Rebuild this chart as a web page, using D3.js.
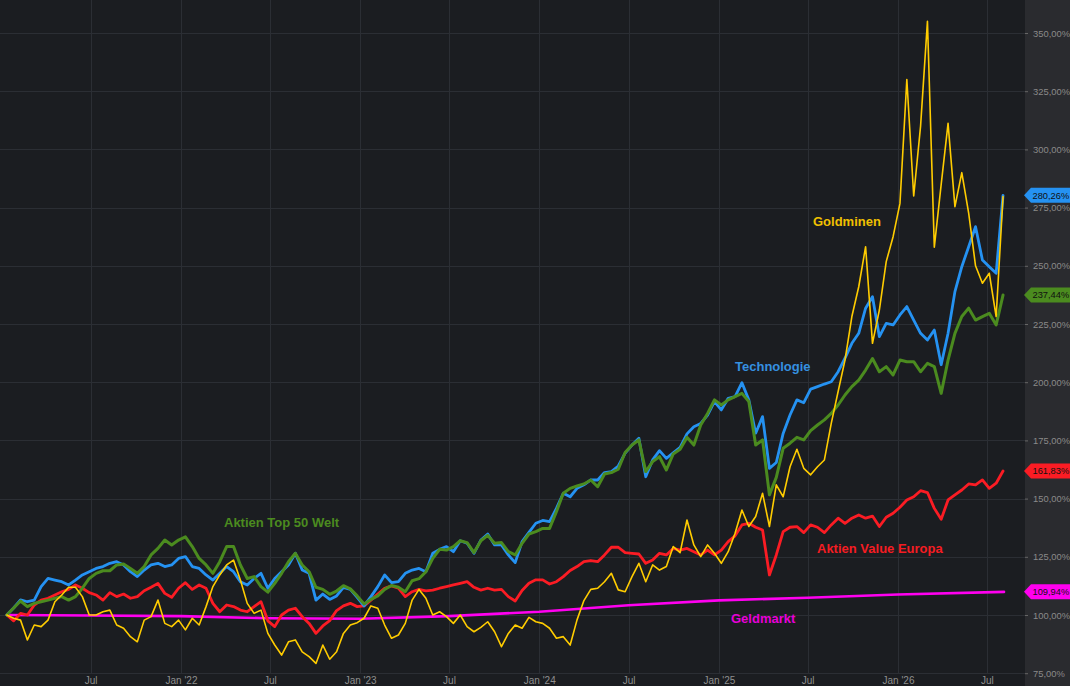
<!DOCTYPE html>
<html><head><meta charset="utf-8">
<script src="https://cdn.jsdelivr.net/npm/d3@7"></script>
<style>
html,body{margin:0;padding:0;background:#1b1d21;overflow:hidden}
svg{display:block;font-family:"Liberation Sans",Arial,sans-serif}
</style></head>
<body>
<svg id="c" width="1070" height="686"></svg>
<script>
// ---------- DATA ----------
const seriesStart = "2021-01-11";   // first observation, one point every 14 days
const stepDays = 14;

const technologie = [100.0,103.0,106.5,105.7,106.4,112.2,115.7,115.0,114.3,112.9,115.0,117.2,118.6,120.0,120.8,122.2,122.9,121.5,118.6,116.5,
119.3,121.5,122.2,120.8,121.5,124.3,125.1,120.8,120.0,117.2,115.0,117.9,120.8,118.6,114.3,112.9,115.7,117.9,111.5,115.7,
118.6,121.5,126.5,119.3,117.9,106.4,109.0,106.7,108.2,111.9,111.0,107.6,103.9,107.9,112.2,117.2,113.9,114.3,117.9,119.3,
120.0,118.6,126.5,128.2,129.4,127.2,131.9,130.8,126.5,132.2,134.8,130.1,130.1,125.8,122.5,131.5,135.5,139.4,140.6,140.1,
145.8,152.3,150.8,154.4,155.9,158.0,158.0,161.2,161.6,164.0,169.5,173.0,175.9,159.4,166.6,170.6,167.3,169.7,172.0,177.8,
180.9,182.3,185.9,191.7,188.1,193.1,193.8,199.8,192.4,178.1,185.2,163.0,165.5,178.0,185.9,192.4,191.2,197.0,198.1,199.2,
200.2,204.5,210.3,216.7,221.0,231.8,236.7,219.6,225.3,224.6,228.9,232.5,226.7,221.0,218.1,222.4,207.5,221.0,238.9,249.6,
258.2,266.8,252.5,249.6,246.8,280.26];

const top50Welt = [100.0,103.0,106.0,103.6,105.0,105.7,106.4,107.2,107.9,106.4,107.9,111.5,115.7,117.9,119.0,119.0,121.5,121.9,120.0,117.9,
120.8,125.8,128.6,132.2,130.1,132.2,133.6,129.4,124.3,121.5,117.9,122.9,129.4,129.4,121.5,115.7,116.5,112.2,109.8,113.6,
117.9,122.9,126.5,121.5,118.6,111.9,111.0,108.9,110.3,112.6,111.2,108.2,104.7,106.7,108.2,111.0,112.7,111.9,110.0,114.7,
115.6,118.6,124.3,128.2,127.9,129.4,131.9,131.1,126.8,131.9,134.2,130.8,131.1,127.2,125.8,130.8,134.8,135.8,137.2,137.2,
144.4,152.3,154.4,155.4,156.3,158.0,155.1,160.6,161.2,162.6,169.8,173.0,175.2,161.6,165.9,168.0,162.3,169.2,171.2,176.3,
173.0,181.6,186.6,192.4,190.2,192.4,193.8,195.2,191.7,173.0,175.2,151.6,159.1,171.6,173.8,176.3,175.2,179.2,181.6,183.8,
186.6,190.2,194.5,198.1,200.9,205.2,210.2,204.5,206.7,203.1,209.5,208.8,208.8,204.5,208.1,206.7,195.2,209.5,221.0,228.2,
231.8,226.7,228.2,229.6,224.6,237.44];

const valueEuropa = [100.0,97.5,100.7,100.0,104.3,106.4,107.2,108.6,110.0,111.0,112.9,111.5,109.6,108.6,106.4,109.6,107.9,109.0,107.2,107.9,
110.4,111.9,113.6,109.3,107.6,111.5,113.9,111.0,112.9,111.5,105.0,101.4,104.3,103.6,102.1,101.4,103.6,105.7,97.5,95.0,
100.0,102.1,102.9,99.3,96.4,92.1,95.3,97.6,101.9,103.9,105.0,103.6,103.9,106.4,109.0,111.5,112.5,111.5,107.9,110.0,
111.0,110.4,110.7,111.5,112.2,112.9,113.6,114.3,111.9,110.7,111.5,110.7,111.0,107.9,106.0,110.5,113.6,115.1,115.1,113.3,
114.3,116.5,119.1,120.8,122.9,123.4,122.9,125.8,129.1,129.1,126.8,126.5,126.2,122.2,123.6,126.5,125.8,128.6,127.9,128.6,
127.2,125.8,127.9,125.8,127.9,131.5,134.0,138.7,139.4,137.7,136.5,117.2,125.8,135.8,137.7,138.0,135.4,138.7,137.7,135.4,
138.7,141.6,139.4,141.6,143.0,141.6,142.5,138.0,142.0,143.7,146.3,149.4,150.8,153.4,152.6,145.8,141.1,149.4,151.6,153.7,
156.3,155.9,158.0,154.4,156.6,161.83];

const goldminen = [100.0,98.6,97.8,89.3,95.7,95.0,97.8,105.7,108.6,111.9,111.9,107.9,100.0,100.0,101.4,102.1,95.7,94.3,90.7,88.5,
97.8,99.3,106.4,96.4,95.0,97.8,93.6,98.6,95.7,103.6,112.2,117.2,121.5,123.6,115.0,105.0,100.7,102.1,92.1,87.1,
82.8,88.5,89.3,84.2,82.1,79.2,87.1,81.0,84.2,92.1,95.7,96.7,98.6,103.9,102.9,95.7,90.0,91.4,96.4,106.4,
111.0,107.2,100.0,101.4,99.3,96.4,100.0,95.0,92.8,94.7,97.1,92.8,86.4,92.1,95.7,94.3,99.0,97.1,96.4,94.3,
90.0,90.7,87.1,97.9,106.2,111.0,111.5,114.3,117.9,110.8,110.0,116.5,122.2,114.3,121.5,119.3,120.8,129.4,126.8,140.8,
130.1,125.1,130.1,126.5,122.2,127.2,135.1,145.1,138.0,142.3,152.3,138.0,155.9,150.8,163.7,171.2,163.0,160.2,163.7,166.6,
182.3,196.0,209.5,228.2,241.0,258.2,216.7,231.0,251.8,262.5,276.8,330.0,280.0,310.0,355.0,258.0,285.0,311.2,275.4,290.0,
272.6,250.0,242.5,246.8,228.2,279.7];

const geldmarktDates = ["2021-01-11","2021-07-01","2022-01-01","2022-07-01","2023-01-01","2023-07-01","2024-01-01","2024-07-01","2025-01-01","2025-07-01","2026-01-01","2026-08-05"];
const geldmarktValues = [100.0,99.8,99.5,98.6,98.4,99.5,101.4,104.2,106.3,107.4,108.8,109.94];

const yTickValues = [75,100,125,150,175,200,225,250,275,300,325,350];
const xTickDates = ["2021-07-01","2022-01-01","2022-07-01","2023-01-01","2023-07-01","2024-01-01","2024-07-01","2025-01-01","2025-07-01","2026-01-01","2026-07-01"];
const xTickLabels = ["Jul","Jan '22","Jul","Jan '23","Jul","Jan '24","Jul","Jan '25","Jul","Jan '26","Jul"];

const seriesNames = ["Geldmarkt","Aktien Value Europa","Technologie","Aktien Top 50 Welt","Goldminen"];
const lastValueTags = [["Technologie",280.26],["Aktien Top 50 Welt",237.44],["Aktien Value Europa",161.83],["Geldmarkt",109.94]];

// ---------- STYLE ----------
const W = 1070, H = 686, plotRight = 1025;
const colors = {"Technologie":"#2592f2","Aktien Top 50 Welt":"#4b8b1f","Aktien Value Europa":"#fb1c24","Goldminen":"#ffcc00","Geldmarkt":"#ff00f0"};
const widths = {"Technologie":2.8,"Aktien Top 50 Welt":3,"Aktien Value Europa":2.8,"Goldminen":1.6,"Geldmarkt":2.6};

const parse = d3.utcParse("%Y-%m-%d");
const t0 = parse(seriesStart);
const dates = technologie.map((_, i) => d3.utcDay.offset(t0, i * stepDays));

const x = d3.scaleUtc().domain([parse("2022-01-01"), parse("2026-01-01")]).range([181, 898]);
const y = d3.scaleLinear().domain([100, 350]).range([615, 33]);

const svg = d3.select("#c");
svg.append("rect").attr("x",0).attr("y",0).attr("width",W).attr("height",H).attr("fill","#1b1d21");
svg.append("rect").attr("x",plotRight).attr("y",0).attr("width",W-plotRight).attr("height",H).attr("fill","#2a2b2f");

svg.append("defs").append("clipPath").attr("id","clip")
  .append("rect").attr("x",0).attr("y",0).attr("width",plotRight).attr("height",H);

// grid
const grid = svg.append("g");
grid.selectAll("line.h").data(yTickValues).join("line")
  .attr("x1",0).attr("x2",plotRight).attr("y1",d=>Math.round(y(d))+0.5).attr("y2",d=>Math.round(y(d))+0.5)
  .attr("stroke","#2b2e34").attr("stroke-width",1);
grid.selectAll("line.v").data(xTickDates).join("line")
  .attr("x1",d=>Math.round(x(parse(d)))+0.5).attr("x2",d=>Math.round(x(parse(d)))+0.5)
  .attr("y1",0).attr("y2",674)
  .attr("stroke","#2b2e34").attr("stroke-width",1);

// y axis (right)
const yAxis = svg.append("g").attr("transform",`translate(${plotRight},0)`)
  .call(d3.axisRight(y).tickValues(yTickValues).tickSize(3).tickPadding(5)
    .tickFormat(d => d3.format(".2f")(d).replace(".", ",") + "%"));
yAxis.select(".domain").remove();
yAxis.selectAll("line").attr("stroke","#666");
yAxis.selectAll("text").attr("fill","#8a8a8a").attr("font-size","9.4px").attr("font-family","Liberation Sans, Arial, sans-serif");

// x axis (bottom)
const xAxis = svg.append("g").attr("transform","translate(0,674)")
  .call(d3.axisBottom(x).tickValues(xTickDates.map(parse)).tickSize(0).tickPadding(3)
    .tickFormat((d,i) => xTickLabels[i]));
xAxis.select(".domain").remove();
xAxis.selectAll("text").attr("fill","#8f8f8f").attr("font-size","10px").attr("font-family","Liberation Sans, Arial, sans-serif");

// lines
const values = {"Technologie":technologie,"Aktien Top 50 Welt":top50Welt,"Aktien Value Europa":valueEuropa,"Goldminen":goldminen};
const line = d3.line().x(d=>x(d[0])).y(d=>y(d[1]));
const lines = svg.append("g").attr("clip-path","url(#clip)");
seriesNames.forEach(name => {
  let pts;
  if (name === "Geldmarkt") pts = geldmarktDates.map((d,i)=>[parse(d), geldmarktValues[i]]);
  else pts = values[name].map((v,i)=>[dates[i], v]);
  lines.append("path").datum(pts).attr("d", line)
    .attr("fill","none").attr("stroke",colors[name]).attr("stroke-width",widths[name])
    .attr("stroke-linejoin","round").attr("stroke-linecap","round");
});

// in-chart labels
const labels = [
  ["Goldminen",813,226],["Technologie",735,370.5],["Aktien Top 50 Welt",224,526.5],
  ["Aktien Value Europa",817,552.5],["Geldmarkt",731,622.5]
];
const labelColors = {"Technologie":"#3590e0","Aktien Top 50 Welt":"#4b8b1f","Aktien Value Europa":"#f51c22","Goldminen":"#f0c000","Geldmarkt":"#e800d8"};
svg.append("g").selectAll("text").data(labels).join("text")
  .attr("x",d=>d[1]).attr("y",d=>d[2]).text(d=>d[0])
  .attr("fill",d=>labelColors[d[0]]).attr("font-size","13px").attr("font-weight","bold")
  .attr("font-family","Liberation Sans, Arial, sans-serif");

// last value tags
const tags = svg.append("g");
lastValueTags.forEach(([name,v]) => {
  const cy = y(v);
  tags.append("path")
    .attr("d",`M${plotRight-1},${cy} L${plotRight+6},${cy-7.5} L${W},${cy-7.5} L${W},${cy+7.5} L${plotRight+6},${cy+7.5} Z`)
    .attr("fill",colors[name]);
  tags.append("text").attr("x",plotRight+7.5).attr("y",cy+3.4)
    .text(d3.format(".2f")(v).replace(".", ",") + "%")
    .attr("fill","#111").attr("font-size","9.3px").attr("font-family","Liberation Sans, Arial, sans-serif");
});
</script>
</body></html>
